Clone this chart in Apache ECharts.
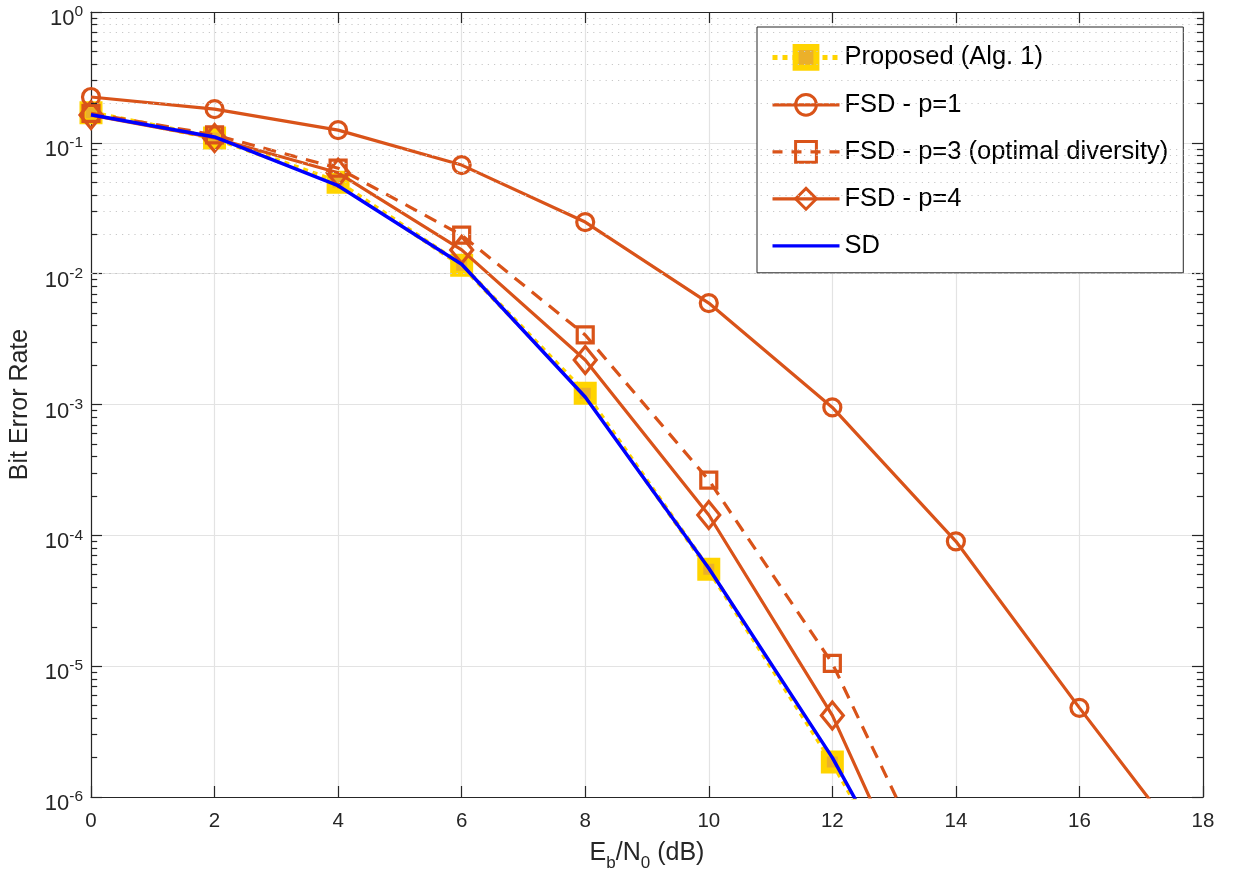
<!DOCTYPE html>
<html>
<head>
<meta charset="utf-8">
<script src="https://cdn.jsdelivr.net/npm/echarts@6/dist/echarts.min.js"></script>
<style>
  html, body { margin: 0; padding: 0; background: #fff; }
  #main { width: 1233px; height: 878px; }
</style>
</head>
<body>
<div id="main"></div>
<script>
// Eb/N0 points (dB)
var snr = [0, 2, 4, 6, 8, 10, 12, 14];
var snrP1 = [0, 2, 4, 6, 8, 10, 12, 14, 16, 18];

// bit error rates (last points fall below 1e-6 and get clipped)
var berProposed = [0.170, 0.109, 0.050, 0.0116, 1.22e-3, 5.5e-5, 1.85e-6, 4.0e-8];
var berP1 = [0.224, 0.181, 0.125, 0.0676, 0.0248, 5.96e-3, 9.5e-4, 9.0e-5, 4.8e-6, 2.8e-7];
var berP3 = [0.168, 0.115, 0.064, 0.0197, 3.4e-3, 2.64e-4, 1.05e-5, 1.1e-7];
var berP4 = [0.163, 0.109, 0.059, 0.0152, 2.19e-3, 1.43e-4, 4.2e-6, 3.5e-8];
var berSD = [0.164, 0.111, 0.047, 0.0118, 1.14e-3, 5.6e-5, 2.0e-6, 3.9e-8];

var names = ['Proposed (Alg. 1)', 'FSD - p=1', 'FSD - p=3 (optimal diversity)', 'FSD - p=4', 'SD'];

var ORANGE = '#D95319';
var YELLOW = '#FFD400';
var BLUE = '#0000FF';
var TXT = '#262626';
var FONT = '"Liberation Sans", Arial, Helvetica, sans-serif';
var HOLLOW = 'rgba(255,255,255,0)';

function pairs(xs, ys) {
    return xs.map(function (x, i) { return [x, ys[i]]; });
}

// minor log grid lines (2..9 x 10^k) and the small inward ticks on both sides
var minorVals = [];
for (var k = -6; k < 0; k++) {
    for (var m = 2; m <= 9; m++) minorVals.push(m * Math.pow(10, k));
}
var minorGrid = minorVals.map(function (v) { return { yAxis: v }; });
var minorTicks = [];
minorVals.forEach(function (v) {
    minorTicks.push([{ coord: [0, v] }, { coord: [0.1, v] }]);
    minorTicks.push([{ coord: [17.9, v] }, { coord: [18, v] }]);
});

var chart = echarts.init(document.getElementById('main'));

var option = {
    animation: false,
    backgroundColor: '#fff',
    textStyle: { fontFamily: FONT, color: TXT },
    grid: { left: 88, right: 30, top: 12, bottom: 81, containLabel: false },
    legend: {
        data: [
            { name: names[0], lineStyle: { color: YELLOW, width: 5, type: [5, 5] },
              itemStyle: { color: '#EBB02A', borderColor: YELLOW, borderWidth: 6 } },
            { name: names[1], lineStyle: { color: ORANGE, width: 3.2 },
              itemStyle: { color: HOLLOW, borderColor: ORANGE, borderWidth: 3 } },
            { name: names[2], lineStyle: { color: ORANGE, width: 3.2, type: [10, 9] },
              itemStyle: { color: HOLLOW, borderColor: ORANGE, borderWidth: 3 } },
            { name: names[3], lineStyle: { color: ORANGE, width: 3.2 },
              itemStyle: { color: HOLLOW, borderColor: ORANGE, borderWidth: 3 } },
            { name: names[4], icon: 'path://M0,0 L100,0 L100,5 L0,5 Z', itemStyle: { color: BLUE } }
        ],
        orient: 'vertical',
        left: 757,
        top: 27,
        padding: [17, 15, 14, 13],
        itemWidth: 67,
        itemHeight: 26,
        itemGap: 21,
        backgroundColor: '#fff',
        borderColor: TXT,
        borderWidth: 1,
        borderRadius: 0,
        textStyle: { fontSize: 25.5, color: '#000', fontFamily: FONT, lineHeight: 26, padding: [0, 0, 0, 0] }
    },
    xAxis: [{
        type: 'value',
        min: 0,
        max: 18,
        interval: 2,
        name: '{n|E}{s|b}{n|/N}{s|0}{n| (dB)}',
        nameLocation: 'middle',
        nameGap: 37,
        nameTextStyle: {
            rich: {
                n: { fontSize: 25, color: TXT, fontFamily: FONT, verticalAlign: 'middle', lineHeight: 26 },
                s: { fontSize: 17, color: TXT, fontFamily: FONT, verticalAlign: 'bottom', lineHeight: 38 }
            }
        },
        axisLine: { show: true, onZero: false, lineStyle: { color: TXT, width: 1.2 } },
        axisTick: { show: true, inside: true, length: 11, lineStyle: { color: TXT, width: 1.2 } },
        axisLabel: { fontSize: 20.5, color: TXT, fontFamily: FONT, margin: 14 },
        splitLine: { show: true, lineStyle: { color: '#e3e3e3', width: 1.2 } }
    }, {
        type: 'value',
        position: 'top',
        min: 0,
        max: 18,
        interval: 2,
        axisLine: { show: true, onZero: false, lineStyle: { color: TXT, width: 1.2 } },
        axisTick: { show: true, inside: true, length: 11, lineStyle: { color: TXT, width: 1.2 } },
        axisLabel: { show: false },
        splitLine: { show: false }
    }],
    yAxis: [{
        type: 'log',
        logBase: 10,
        min: 1e-6,
        max: 1,
        interval: 1,
        splitNumber: 6,
        name: 'Bit Error Rate',
        nameLocation: 'middle',
        nameGap: 58,
        nameTextStyle: { fontSize: 25, color: TXT, fontFamily: FONT },
        axisLine: { show: true, onZero: false, lineStyle: { color: TXT, width: 1.2 } },
        axisTick: { show: true, inside: true, length: 11, lineStyle: { color: TXT, width: 1.2 } },
        axisLabel: {
            margin: 8,
            formatter: function (v) {
                return '{b|10}{e|' + Math.round(Math.log10(v)) + '}';
            },
            rich: {
                b: { fontSize: 22, color: TXT, fontFamily: FONT, verticalAlign: 'bottom', lineHeight: 36 },
                e: { fontSize: 15.5, color: TXT, fontFamily: FONT, verticalAlign: 'middle', lineHeight: 36 }
            }
        },
        splitLine: { show: true, lineStyle: { color: '#e3e3e3', width: 1.2 } },
        minorTick: { show: false },
        minorSplitLine: { show: false }
    }, {
        type: 'log',
        logBase: 10,
        min: 1e-6,
        max: 1,
        interval: 1,
        splitNumber: 6,
        position: 'right',
        axisLine: { show: true, onZero: false, lineStyle: { color: TXT, width: 1.2 } },
        axisTick: { show: true, inside: true, length: 11, lineStyle: { color: TXT, width: 1.2 } },
        axisLabel: { show: false },
        splitLine: { show: false }
    }],
    series: [{
        // helper: dotted minor grid
        type: 'line',
        data: [],
        silent: true,
        z: 1,
        markLine: {
            silent: true,
            symbol: 'none',
            animation: false,
            label: { show: false },
            lineStyle: { color: '#c8c8c8', width: 1.2, type: [1.2, 5] },
            data: minorGrid
        }
    }, {
        // helper: minor ticks on left and right edges
        type: 'line',
        data: [],
        silent: true,
        z: 1,
        markLine: {
            silent: true,
            symbol: 'none',
            animation: false,
            label: { show: false },
            lineStyle: { color: TXT, width: 1.2, type: 'solid' },
            data: minorTicks
        }
    }, {
        name: names[0],
        type: 'line',
        data: pairs(snr, berProposed),
        clip: true,
        symbol: 'rect',
        symbolSize: 17,
        lineStyle: { color: YELLOW, width: 5, type: [5, 5], cap: 'butt' },
        itemStyle: { color: '#EBB02A', borderColor: YELLOW, borderWidth: 6 },
        z: 3
    }, {
        name: names[1],
        type: 'line',
        data: pairs(snrP1, berP1),
        clip: true,
        symbol: 'circle',
        symbolSize: 17,
        lineStyle: { color: ORANGE, width: 3.2 },
        itemStyle: { color: HOLLOW, borderColor: ORANGE, borderWidth: 3.2 },
        z: 4
    }, {
        name: names[2],
        type: 'line',
        data: pairs(snr, berP3),
        clip: true,
        symbol: 'rect',
        symbolSize: 16,
        lineStyle: { color: ORANGE, width: 3.2, type: [13, 9] },
        itemStyle: { color: HOLLOW, borderColor: ORANGE, borderWidth: 3.2 },
        z: 4
    }, {
        name: names[3],
        type: 'line',
        data: pairs(snr, berP4),
        clip: true,
        symbol: 'diamond',
        symbolSize: [22, 27],
        lineStyle: { color: ORANGE, width: 3.2 },
        itemStyle: { color: HOLLOW, borderColor: ORANGE, borderWidth: 3.2 },
        z: 4
    }, {
        name: names[4],
        type: 'line',
        data: pairs(snr, berSD),
        clip: true,
        symbol: 'none',
        lineStyle: { color: BLUE, width: 3.5 },
        itemStyle: { color: BLUE },
        z: 5
    }]
};

chart.setOption(option);
</script>
</body>
</html>
